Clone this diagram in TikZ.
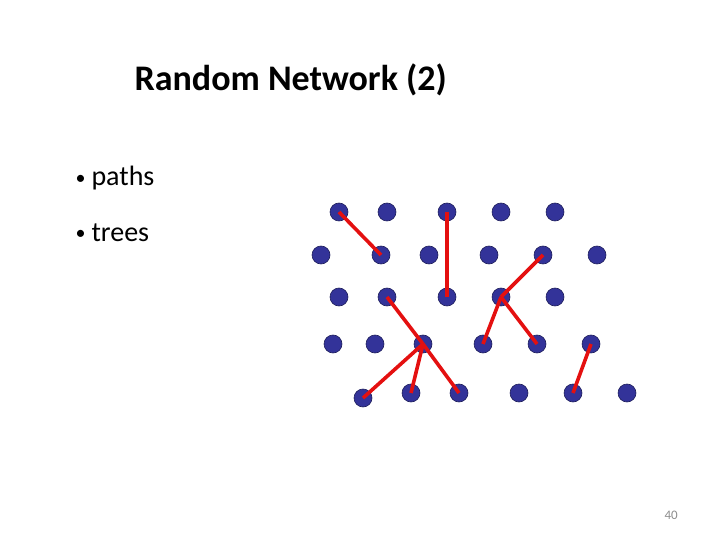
\documentclass[tikz,border=0pt]{standalone}
\usepackage{fontspec}
\setmainfont{Carlito}
\usepackage{tikz}
\tikzset{>=latex}

\definecolor{dotblue}{RGB}{51,51,153}
\definecolor{dotedge}{RGB}{30,30,90}
\definecolor{linkred}{RGB}{228,16,16}
\definecolor{pagegray}{RGB}{140,140,140}

\tikzset{
  dot/.style={circle,fill=dotblue,draw=dotedge,line width=0.6pt,
              minimum size=18pt,inner sep=0pt},
  link/.style={linkred,line width=3.6pt},
  bullet/.style={anchor=base west,font=\fontsize{28}{32}\selectfont}
}
\newcommand\bul{\makebox[16pt][l]{\fontsize{20}{24}\selectfont\raisebox{1.5pt}{•}}}

\begin{document}
\begin{tikzpicture}[x=1pt,y=-1pt]
  \useasboundingbox (0,0) rectangle (720,540);

  % TITLE
  \node[anchor=base west,font=\fontsize{36}{42}\selectfont\bfseries]
    (title) at (131,91) {Random Network (2)};

  % BULLETS
  \node[bullet] (paths) at (72,186) {\bul paths};
  \node[bullet] (trees) at (72,241) {\bul trees};

  % DOTS
  \foreach \x [count=\c] in {339,387,447,501,555}
    \node[dot] (d1-\c) at (\x,212) {};
  \foreach \x [count=\c] in {321,381,429,489,543,597}
    \node[dot] (d2-\c) at (\x,255) {};
  \foreach \x [count=\c] in {339,387,447,501,555}
    \node[dot] (d3-\c) at (\x,297) {};
  \foreach \x [count=\c] in {333,375,423,483,537,591}
    \node[dot] (d4-\c) at (\x,344) {};
  \foreach \x/\y [count=\c] in {363/398,411/393,459/393,519/393,573/393,627/393}
    \node[dot] (d5-\c) at (\x,\y) {};

  % LINKS
  \draw[link] (d1-1.center) -- (d2-2.center);
  \draw[link] (d1-3.center) -- (d3-3.center);
  \draw[link] (d2-5.center) -- (d3-4.center);
  \draw[link] (d3-4.center) -- (d4-4.center);
  \draw[link] (d3-4.center) -- (d4-5.center);
  \draw[link] (d3-2.center) -- (d4-3.center);
  \draw[link] (d4-3.center) -- (d5-1.center);
  \draw[link] (d4-3.center) -- (d5-2.center);
  \draw[link] (d4-3.center) -- (d5-3.center);
  \draw[link] (d4-6.center) -- (d5-5.center);

  % PAGE NUMBER
  \node[anchor=base west,pagegray,font=\fontsize{13}{15}\selectfont]
    (page) at (661,519) {40};
\end{tikzpicture}
\end{document}
